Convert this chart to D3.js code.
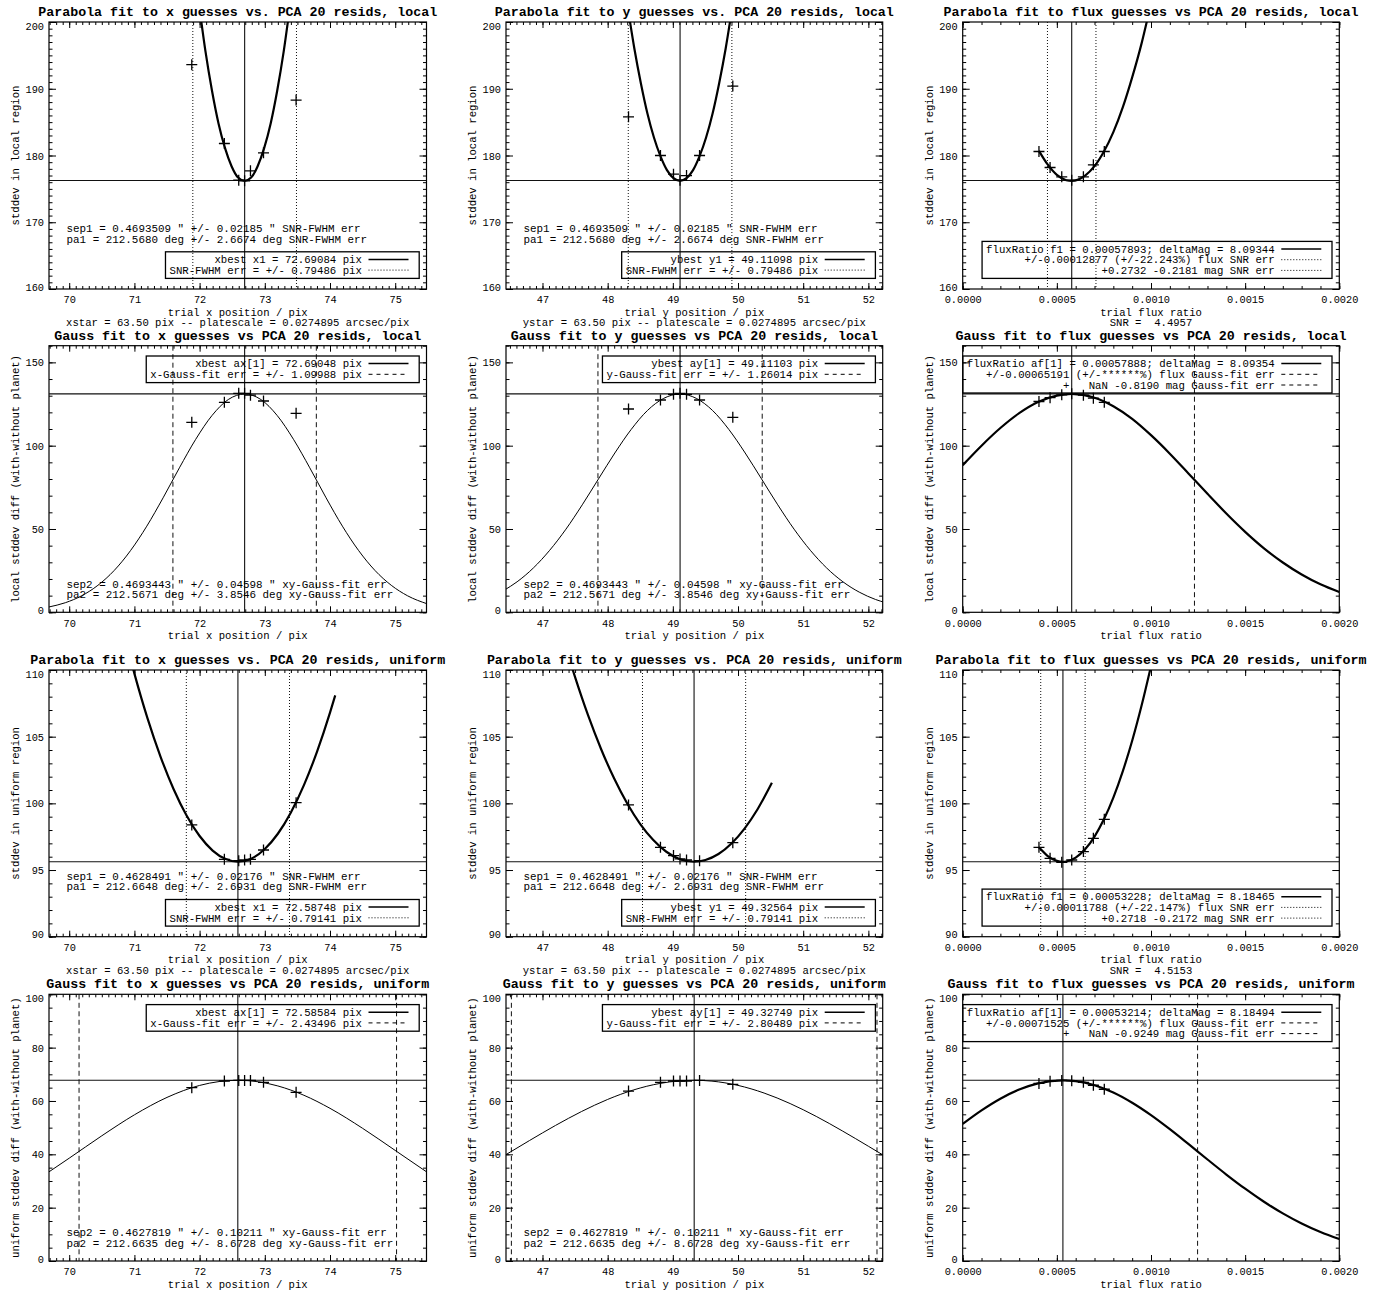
<!DOCTYPE html>
<html><head><meta charset="utf-8">
<script src="https://cdn.jsdelivr.net/npm/d3@7"></script>
<style>
body{margin:0;background:#fff}
svg{display:block}
text{font-family:"Liberation Mono","Courier New",monospace;fill:#000;white-space:pre}
</style>
</head><body><svg id="c" width="1380" height="1292"></svg>
<script>
// ---------------- DATA ----------------
const titles = [
 'Parabola fit to x guesses vs. PCA 20 resids, local',
 'Parabola fit to y guesses vs. PCA 20 resids, local',
 'Parabola fit to flux guesses vs PCA 20 resids, local',
 'Gauss fit to x guesses vs PCA 20 resids, local',
 'Gauss fit to y guesses vs PCA 20 resids, local',
 'Gauss fit to flux guesses vs PCA 20 resids, local',
 'Parabola fit to x guesses vs. PCA 20 resids, uniform',
 'Parabola fit to y guesses vs. PCA 20 resids, uniform',
 'Parabola fit to flux guesses vs PCA 20 resids, uniform',
 'Gauss fit to x guesses vs PCA 20 resids, uniform',
 'Gauss fit to y guesses vs PCA 20 resids, uniform',
 'Gauss fit to flux guesses vs PCA 20 resids, uniform'
];
const xAxisLabels = ['trial x position / pix','trial y position / pix','trial flux ratio'];
const yAxisLabels = ['stddev in local region','local stddev diff (with-without planet)','stddev in uniform region','uniform stddev diff (with-without planet)'];
const footers = [
 'xstar = 63.50 pix -- platescale = 0.0274895 arcsec/pix','ystar = 63.50 pix -- platescale = 0.0274895 arcsec/pix','SNR =  4.4957',
 '','','',
 'xstar = 63.50 pix -- platescale = 0.0274895 arcsec/pix','ystar = 63.50 pix -- platescale = 0.0274895 arcsec/pix','SNR =  4.5153',
 '','',''
];
const xDomains = [[69.69,75.48],[46.44,52.22],[0,0.002]];
const yDomains = [[160,200],[0,160],[90,110],[0,100]];
const xTickVals = [[70,71,72,73,74,75],[47,48,49,50,51,52],[0,0.0005,0.0010,0.0015,0.0020]];
const xMinorStep = [0.1,0.1,0.0001];
const yTickVals = [[160,170,180,190,200],[0,50,100,150],[90,95,100,105,110],[0,20,40,60,80,100]];
const yMinorStep = [1,10,1,5];

// best-fit value (vertical line), error half-width, level (horizontal line)
const refBest  = [72.69084,49.11098,0.00057893,72.69048,49.11103,0.00057888,72.58748,49.32564,0.00053228,72.58584,49.32749,0.00053214];
const refErr   = [0.79486,0.79486,0.00012877,1.09988,1.26014,0.00065191,0.79141,0.79141,0.00011788,2.43496,2.80489,0.00071525];
const refLevel = [176.25,176.25,176.25,131.1,131.1,131.1,95.62,95.62,95.62,67.76,67.76,67.76];

// guesses (crosses)
const guessX = [71.88,72.38,72.60,72.69,72.78,72.98,73.48];
const guessY = [48.32,48.81,49.01,49.11,49.21,49.41,49.92];
const guessF = [0.000405,0.000464,0.000526,0.000579,0.000641,0.000694,0.000752];
const p1Y  = [193.6,181.8,176.3,176.2,177.7,180.4,188.3];
const p2Y  = [185.8,180.0,177.2,176.3,177.0,180.0,190.4];
const p3Y  = [180.6,178.2,176.8,176.3,176.8,178.6,180.6];
const p4Y  = [114.0,126.0,131.4,131.4,130.3,126.8,119.4];
const p5Y  = [122.0,127.4,130.8,131.4,130.8,127.4,117.0];
const p6Y  = [126.5,128.8,130.5,131.2,130.3,128.5,126.0];
const p7Y  = [98.38,95.8,95.7,95.75,95.8,96.5,100.05];
const p8Y  = [99.88,96.7,96.08,95.83,95.75,95.7,97.05];
const p9Y  = [96.7,95.88,95.58,95.75,96.38,97.38,98.8];
const p10Y = [65.0,67.5,67.7,67.7,67.7,67.0,63.25];
const p11Y = [63.7,67.0,67.5,67.5,67.5,67.7,66.25];
const p12Y = [66.6,67.4,67.7,67.6,67.0,65.9,64.4];

// fitted curves
const fit1X = [71.99,72.09,72.19,72.29,72.39,72.49,72.59,72.69,72.79,72.89,72.99,73.09,73.19,73.29,73.39];
const fit1Y = [202.7,195.6,189.7,184.8,181.1,178.4,176.7,176.2,176.7,178.4,181.1,184.8,189.7,195.6,202.7];
const fit2X = [48.31,48.41,48.51,48.61,48.71,48.81,48.91,49.01,49.11,49.21,49.31,49.41,49.51,49.61,49.71,49.81,49.91];
const fit2Y = [202.1,196.0,190.8,186.3,182.7,179.9,177.8,176.6,176.2,176.6,177.8,179.9,182.7,186.3,190.8,196.0,202.1];
const fit3X = [0.000405,0.00045,0.0005,0.00055,0.000579,0.00065,0.0007,0.00075,0.0008,0.00085,0.0009,0.00095,0.001];
const fit3Y = [180.7,178.7,177.1,176.3,176.2,177.0,178.4,180.6,183.5,187.2,191.7,196.8,202.8];
const fit4X = [69.69,69.94,70.19,70.44,70.69,70.94,71.19,71.44,71.69,71.94,72.19,72.44,72.69,72.94,73.19,73.44,73.69,73.94,74.19,74.44,74.69,74.94,75.19,75.49];
const fit4Y = [3.2,5.75,9.9,16.2,25.1,37.0,51.7,68.7,86.7,103.8,118.1,127.7,131,127.7,118.1,103.8,86.7,68.7,51.7,37.0,25.1,16.2,9.9,5.1];
const fit5X = [46.41,46.61,46.86,47.11,47.36,47.61,47.86,48.11,48.36,48.61,48.86,49.11,49.36,49.61,49.86,50.11,50.36,50.61,50.86,51.11,51.36,51.61,51.86,52.11,52.26];
const fit5Y = [13.2,18.3,26.6,37.2,49.9,64.5,80.1,95.6,109.7,121.1,128.4,131,128.4,121.1,109.7,95.6,80.1,64.5,49.9,37.2,26.6,18.3,12.1,7.7,5.8];
const fit6X = [0,0.0001,0.0002,0.0003,0.0004,0.0005,0.000579,0.0007,0.0008,0.0009,0.001,0.0011,0.0012,0.0013,0.0014,0.0015,0.0016,0.0017,0.0018,0.0019,0.002];
const fit6Y = [88.3,100.0,110.6,119.5,126.2,130.0,131,128.8,123.7,116.1,106.3,95.2,83.2,71.1,59.3,48.3,38.4,29.9,22.7,16.8,12.2];
const fit7X = [70.9,71.0,71.2,71.4,71.6,71.8,72.0,72.2,72.4,72.587,72.8,73.0,73.2,73.4,73.6,73.8,74.0,74.08];
const fit7Y = [111.56,109.73,106.39,103.51,101.08,99.09,97.55,96.46,95.82,95.62,95.87,96.58,97.72,99.32,101.37,103.86,106.8,108.1];
const fit8X = [47.4,47.5,47.7,47.9,48.1,48.3,48.5,48.7,48.9,49.1,49.326,49.5,49.7,49.9,50.1,50.3,50.52];
const fit8Y = [111.01,109.46,106.59,104.06,101.86,99.99,98.45,97.25,96.37,95.83,95.62,95.75,96.2,96.99,98.11,99.56,101.54];
const fit9X = [0.000405,0.00045,0.0005,0.000532,0.00055,0.0006,0.00065,0.0007,0.00075,0.0008,0.00085,0.0009,0.00095,0.001];
const fit9Y = [96.7,96.07,95.69,95.62,95.64,95.93,96.55,97.51,98.8,100.43,102.4,104.69,107.33,110.29];
const fit10X = [69.6,70.0,70.5,71.0,71.5,72.0,72.3,72.586,72.9,73.2,73.6,74.0,74.5,75.0,75.5];
const fit10Y = [31.95,38.55,46.95,54.81,61.34,65.83,67.29,67.76,67.2,65.64,62.14,57.25,49.75,41.46,33.11];
const fit11X = [46.4,46.8,47.2,47.6,48.0,48.4,48.8,49.1,49.327,49.6,50.0,50.4,50.8,51.2,51.6,52.0,52.25];
const fit11Y = [39.31,45.16,50.83,56.06,60.58,64.16,66.57,67.54,67.76,67.44,65.84,62.98,59.03,54.22,48.79,43.03,39.37];
const fit12X = [0,0.0001,0.0002,0.0003,0.0004,0.000532,0.0006,0.0007,0.0008,0.0009,0.001,0.0011,0.0012,0.0013,0.0014,0.0015,0.0016,0.0017,0.0018,0.0019,0.002];
const fit12Y = [51.38,56.46,60.84,64.28,66.61,67.76,67.45,65.92,63.17,59.35,54.7,49.42,43.79,38.06,32.43,27.1,22.2,17.84,14.06,10.86,8.23];

const legendTexts = [
 ['xbest x1 = 72.69084 pix','SNR-FWHM err = +/- 0.79486 pix'],
 ['ybest y1 = 49.11098 pix','SNR-FWHM err = +/- 0.79486 pix'],
 ['fluxRatio f1 = 0.00057893; deltaMag = 8.09344','+/-0.00012877 (+/-22.243%) flux SNR err','+0.2732 -0.2181 mag SNR err'],
 ['xbest ax[1] = 72.69048 pix','x-Gauss-fit err = +/- 1.09988 pix'],
 ['ybest ay[1] = 49.11103 pix','y-Gauss-fit err = +/- 1.26014 pix'],
 ['fluxRatio af[1] = 0.00057888; deltaMag = 8.09354','+/-0.00065191 (+/-******%) flux Gauss-fit err','+   NaN -0.8190 mag Gauss-fit err'],
 ['xbest x1 = 72.58748 pix','SNR-FWHM err = +/- 0.79141 pix'],
 ['ybest y1 = 49.32564 pix','SNR-FWHM err = +/- 0.79141 pix'],
 ['fluxRatio f1 = 0.00053228; deltaMag = 8.18465','+/-0.00011788 (+/-22.147%) flux SNR err','+0.2718 -0.2172 mag SNR err'],
 ['xbest ax[1] = 72.58584 pix','x-Gauss-fit err = +/- 2.43496 pix'],
 ['ybest ay[1] = 49.32749 pix','y-Gauss-fit err = +/- 2.80489 pix'],
 ['fluxRatio af[1] = 0.00053214; deltaMag = 8.18494','+/-0.00071525 (+/-******%) flux Gauss-fit err','+   NaN -0.9249 mag Gauss-fit err']
];
const annotTexts = [
 ['sep1 = 0.4693509 " +/- 0.02185 " SNR-FWHM err','pa1 = 212.5680 deg +/- 2.6674 deg SNR-FWHM err'],
 ['sep1 = 0.4693509 " +/- 0.02185 " SNR-FWHM err','pa1 = 212.5680 deg +/- 2.6674 deg SNR-FWHM err'],
 [],
 ['sep2 = 0.4693443 " +/- 0.04598 " xy-Gauss-fit err','pa2 = 212.5671 deg +/- 3.8546 deg xy-Gauss-fit err'],
 ['sep2 = 0.4693443 " +/- 0.04598 " xy-Gauss-fit err','pa2 = 212.5671 deg +/- 3.8546 deg xy-Gauss-fit err'],
 [],
 ['sep1 = 0.4628491 " +/- 0.02176 " SNR-FWHM err','pa1 = 212.6648 deg +/- 2.6931 deg SNR-FWHM err'],
 ['sep1 = 0.4628491 " +/- 0.02176 " SNR-FWHM err','pa1 = 212.6648 deg +/- 2.6931 deg SNR-FWHM err'],
 [],
 ['sep2 = 0.4627819 " +/- 0.10211 " xy-Gauss-fit err','pa2 = 212.6635 deg +/- 8.6728 deg xy-Gauss-fit err'],
 ['sep2 = 0.4627819 " +/- 0.10211 " xy-Gauss-fit err','pa2 = 212.6635 deg +/- 8.6728 deg xy-Gauss-fit err'],
 []
];

const crossX = [guessX,guessY,guessF,guessX,guessY,guessF,guessX,guessY,guessF,guessX,guessY,guessF];
const crossY = [p1Y,p2Y,p3Y,p4Y,p5Y,p6Y,p7Y,p8Y,p9Y,p10Y,p11Y,p12Y];
const fitX = [fit1X,fit2X,fit3X,fit4X,fit5X,fit6X,fit7X,fit8X,fit9X,fit10X,fit11X,fit12X];
const fitY = [fit1Y,fit2Y,fit3Y,fit4Y,fit5Y,fit6Y,fit7Y,fit8Y,fit9Y,fit10Y,fit11Y,fit12Y];

// ---------------- LAYOUT ----------------
const COL_L=[49,506,962.7], COL_R=[426.5,882.7,1339.3];
const ROW_T=[22,345.7,670,994.3], ROW_B=[289,612.3,936.7,1261];
const svg = d3.select('#c');
const defs = svg.append('defs');
const DOT='1,2', DASH='5,3.5', LDASH='4,4';

function minorVals(dom, step){
  const out=[]; const n0=Math.ceil(dom[0]/step-1e-6), n1=Math.floor(dom[1]/step+1e-6);
  for(let k=n0;k<=n1;k++) out.push(+(k*step).toPrecision(10));
  return out;
}

for(let i=0;i<12;i++){
  const r=Math.floor(i/3), c=i%3;
  const L=COL_L[c], R=COL_R[c], T=ROW_T[r], B=ROW_B[r];
  const x=d3.scaleLinear().domain(xDomains[c]).range([L,R]);
  const y=d3.scaleLinear().domain(yDomains[r]).range([B,T]);
  const g=svg.append('g');
  defs.append('clipPath').attr('id','cl'+i).append('rect').attr('x',L).attr('y',T).attr('width',R-L).attr('height',B-T);

  // axes: major + minor ticks, inward on all sides
  const xfmt = c===2 ? d3.format('.4f') : d3.format('d');
  const ax = (gen, tx, ty)=>{const a=g.append('g').attr('transform',`translate(${tx},${ty})`).call(gen); a.select('.domain').remove(); a.selectAll('line').attr('stroke','#000').attr('stroke-width',1); return a;};
  const xb = ax(d3.axisBottom(x).tickValues(xTickVals[c]).tickSize(-6).tickSizeOuter(0).tickFormat(xfmt),0,B);
  xb.selectAll('text').attr('y',10.7).attr('dy','0.35em').style('font-size','10.3px').style('font-family','"Liberation Mono",monospace').attr('fill','#000');
  ax(d3.axisBottom(x).tickValues(minorVals(xDomains[c],xMinorStep[c])).tickSize(-3).tickSizeOuter(0).tickFormat(''),0,B);
  ax(d3.axisTop(x).tickValues(xTickVals[c]).tickSize(-6).tickSizeOuter(0).tickFormat(''),0,T);
  ax(d3.axisTop(x).tickValues(minorVals(xDomains[c],xMinorStep[c])).tickSize(-3).tickSizeOuter(0).tickFormat(''),0,T);
  const yl = ax(d3.axisLeft(y).tickValues(yTickVals[r]).tickSize(-7).tickSizeOuter(0).tickFormat(d3.format('d')),L,0);
  const yd = yDomains[r];
  yl.selectAll('text').attr('x',-5).attr('dy','0.35em')
    .attr('y',d=> d===yd[1] ? 3.5 : (d===yd[0] ? -2.5 : 0))
    .style('font-size','10.3px').style('font-family','"Liberation Mono",monospace').attr('fill','#000');
  ax(d3.axisLeft(y).tickValues(minorVals(yDomains[r],yMinorStep[r])).tickSize(-3.5).tickSizeOuter(0).tickFormat(''),L,0);
  ax(d3.axisRight(y).tickValues(yTickVals[r]).tickSize(-7).tickSizeOuter(0).tickFormat(''),R,0);
  ax(d3.axisRight(y).tickValues(minorVals(yDomains[r],yMinorStep[r])).tickSize(-3.5).tickSizeOuter(0).tickFormat(''),R,0);

  g.append('rect').attr('x',L).attr('y',T).attr('width',R-L).attr('height',B-T).attr('fill','none').attr('stroke','#000').attr('stroke-width',1.2);

  const pg=g.append('g').attr('clip-path',`url(#cl${i})`);
  // reference lines
  const isGauss = (r===1||r===3);
  const dash = isGauss ? DASH : DOT;
  pg.append('line').attr('x1',L).attr('x2',R).attr('y1',y(refLevel[i])).attr('y2',y(refLevel[i])).attr('stroke','#111').attr('stroke-width',1.1);
  pg.append('line').attr('x1',x(refBest[i])).attr('x2',x(refBest[i])).attr('y1',T).attr('y2',B).attr('stroke','#111').attr('stroke-width',1.1);
  [refBest[i]-refErr[i], refBest[i]+refErr[i]].forEach(v=>{
    pg.append('line').attr('x1',x(v)).attr('x2',x(v)).attr('y1',T).attr('y2',B).attr('stroke','#111').attr('stroke-width',1).attr('stroke-dasharray',dash);
  });
  // fit curve
  const pts = fitX[i].map((v,k)=>[v,fitY[i][k]]);
  const thick = !(isGauss && c<2);
  pg.append('path').datum(pts).attr('d',d3.line().x(d=>x(d[0])).y(d=>y(d[1])).curve(d3.curveMonotoneX))
    .attr('fill','none').attr('stroke','#000').attr('stroke-width',thick?2.2:1);
  // crosses
  const cs=5.5;
  pg.selectAll('path.cr').data(crossX[i].map((v,k)=>[v,crossY[i][k]])).join('path').attr('class','cr')
    .attr('d',d=>{const px=x(d[0]),py=y(d[1]);return `M${px-cs},${py}H${px+cs}M${px},${py-cs}V${py+cs}`;})
    .attr('stroke','#000').attr('stroke-width',1.3).attr('fill','none');

  // title
  g.append('text').attr('x',(L+R)/2).attr('y',T-10.5).attr('dy','0.35em').attr('text-anchor','middle')
    .style('font-size','13.3px').style('font-weight','bold').text(titles[i]);
  // x label
  g.append('text').attr('x',(L+R)/2).attr('y',B+22.8).attr('dy','0.35em').attr('text-anchor','middle').style('font-size','10.6px').text(xAxisLabels[c]);
  if(footers[i]) g.append('text').attr('x',(L+R)/2).attr('y',B+33.3).attr('dy','0.35em').attr('text-anchor','middle').style('font-size','10.6px').text(footers[i]);
  // y label
  g.append('text').attr('transform',`translate(${L-33.3},${(T+B)/2}) rotate(-90)`).attr('dy','0.35em').attr('text-anchor','middle').style('font-size','10.6px').text(yAxisLabels[r]);

  // annotation text
  const aOff = isGauss ? [-28.6,-18.3] : [-60.7,-50.2];
  annotTexts[i].forEach((t,k)=>{
    g.append('text').attr('x',L+17.5).attr('y',B+aOff[k]).attr('dy','0.35em').style('font-size','10.9px').text(t);
  });

  // legend
  const lt = legendTexts[i], n=lt.length;
  const boxR = R-7.3, boxH = n===2?26.6:37;
  const boxT = isGauss ? T+10.3 : B-10.6-boxH;
  const textR = boxR-57.3;
  let maxW=0;
  lt.forEach((t,k)=>{
    const ty=boxT+7.6+10.7*k;
    const tn=g.append('text').attr('x',textR).attr('y',ty).attr('dy','0.35em').attr('text-anchor','end').style('font-size','10.7px').text(t);
    maxW=Math.max(maxW,tn.node().getComputedTextLength());
    const st = k===0 ? null : (isGauss?LDASH:DOT);
    g.append('line').attr('x1',textR+6.6).attr('x2',textR+46.6).attr('y1',ty).attr('y2',ty)
      .attr('stroke','#000').attr('stroke-width',k===0?1.5:1).attr('stroke-dasharray',st);
  });
  g.append('rect').attr('x',textR-maxW-4).attr('y',boxT).attr('width',boxR-(textR-maxW-4)).attr('height',boxH)
    .attr('fill','none').attr('stroke','#000').attr('stroke-width',1.3);
}
</script>
</body></html>
